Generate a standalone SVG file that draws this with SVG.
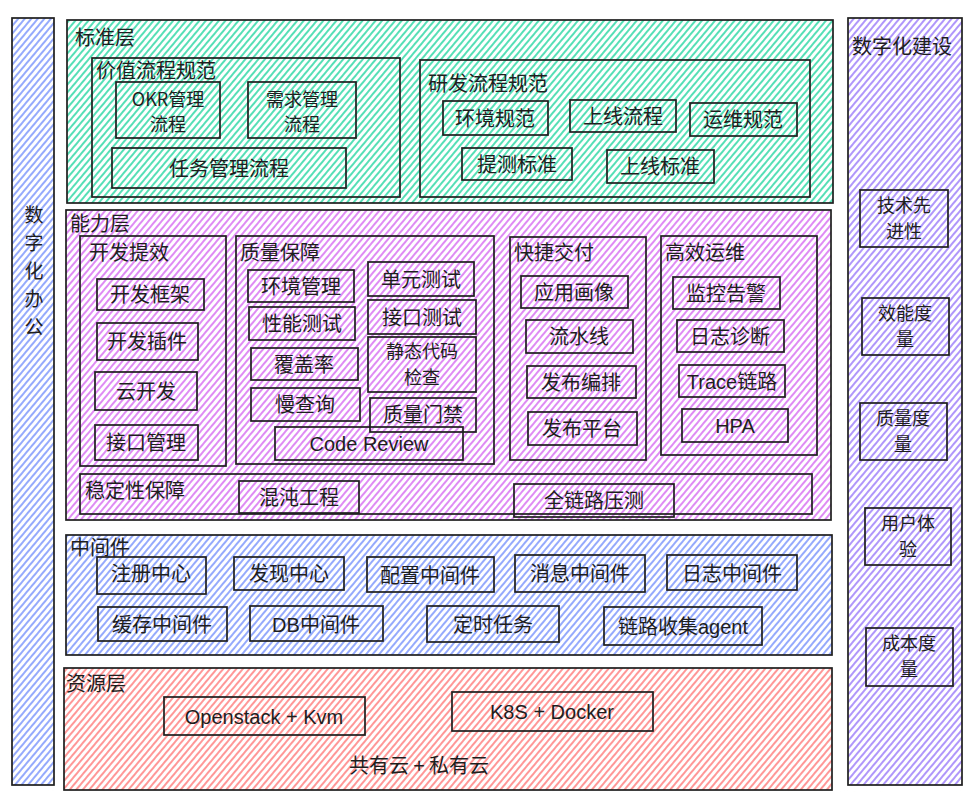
<svg xmlns="http://www.w3.org/2000/svg" width="975" height="800" viewBox="0 0 975 800">
<defs>
<pattern id="hG" width="5" height="5" patternUnits="userSpaceOnUse" patternTransform="rotate(40)"><line x1="1" y1="0" x2="1" y2="5" stroke="#38d9a9" stroke-width="1.7"/></pattern>
<pattern id="hP" width="5" height="5" patternUnits="userSpaceOnUse" patternTransform="rotate(40)"><line x1="1" y1="0" x2="1" y2="5" stroke="#da77f2" stroke-width="1.7"/></pattern>
<pattern id="hB" width="5" height="5" patternUnits="userSpaceOnUse" patternTransform="rotate(40)"><line x1="1" y1="0" x2="1" y2="5" stroke="#5c7cfa" stroke-width="1.3"/></pattern>
<pattern id="hV" width="5" height="5" patternUnits="userSpaceOnUse" patternTransform="rotate(40)"><line x1="1" y1="0" x2="1" y2="5" stroke="#845ef7" stroke-width="1.3"/></pattern>
<pattern id="hR" width="5" height="5" patternUnits="userSpaceOnUse" patternTransform="rotate(40)"><line x1="1" y1="0" x2="1" y2="5" stroke="#ff6b6b" stroke-width="1.4"/></pattern>
</defs>
<style>
.b{stroke:#1e1e1e;stroke-width:1.7;fill:none}
text{font-family:"Noto Sans CJK SC","Liberation Sans",sans-serif;font-size:20px;fill:#1e1e1e}
.c{text-anchor:middle}
.m{font-size:18px}
.v{font-size:19px}
.l{font-family:"Liberation Sans","Noto Sans CJK SC",sans-serif}
</style>
<rect width="975" height="800" fill="#fff"/>

<g id="left-bar">
<rect class="b" x="12" y="18" width="42" height="767" style="fill:url(#hB)"/>
<text class="c v" x="34" y="222">数<tspan x="34" dy="28">字</tspan><tspan x="34" dy="28">化</tspan><tspan x="34" dy="28">办</tspan><tspan x="34" dy="28">公</tspan></text>
</g>

<g id="right-bar">
<rect class="b" x="848" y="18" width="114" height="767" style="fill:url(#hV)"/>
<text class="c" x="902" y="54">数字化建设</text>
</g>
<g id="tech"><rect class="b" x="860" y="190" width="88" height="57"/><text class="c m" x="904" y="212">技术先<tspan x="904" dy="26">进性</tspan></text></g>
<g id="eff"><rect class="b" x="862" y="298" width="87" height="57"/><text class="c m" x="905" y="320">效能度<tspan x="905" dy="26">量</tspan></text></g>
<g id="qual"><rect class="b" x="860" y="403" width="87" height="57"/><text class="c m" x="903" y="425">质量度<tspan x="903" dy="26">量</tspan></text></g>
<g id="ux"><rect class="b" x="865" y="508" width="86" height="57"/><text class="c m" x="908" y="530">用户体<tspan x="908" dy="26">验</tspan></text></g>
<g id="cost"><rect class="b" x="866" y="628" width="87" height="58"/><text class="c m" x="909" y="650">成本度<tspan x="909" dy="26">量</tspan></text></g>

<g id="std-layer">
<rect class="b" x="67" y="20" width="766" height="183" style="fill:url(#hG)"/>
<text x="75" y="45">标准层</text>
</g>
<g id="value-spec"><rect class="b" x="92" y="58" width="308" height="139"/><text x="96" y="78">价值流程规范</text></g>
<g id="okr"><rect class="b" x="116" y="82" width="104" height="56"/><text class="c m" x="168" y="106">OKR管理<tspan x="168" dy="25">流程</tspan></text></g>
<g id="req"><rect class="b" x="248" y="82" width="108" height="56"/><text class="c m" x="302" y="106">需求管理<tspan x="302" dy="25">流程</tspan></text></g>
<g id="task"><rect class="b" x="112" y="148" width="234" height="40"/><text class="c" x="229" y="176">任务管理流程</text></g>
<g id="rd-spec"><rect class="b" x="420" y="60" width="390" height="137"/><text x="428" y="91">研发流程规范</text></g>
<g id="env-spec"><rect class="b" x="443" y="101" width="105" height="34"/><text class="c" x="495" y="126">环境规范</text></g>
<g id="online-flow"><rect class="b" x="570" y="100" width="106" height="32"/><text class="c" x="623" y="124">上线流程</text></g>
<g id="ops-spec"><rect class="b" x="690" y="103" width="107" height="33"/><text class="c" x="743" y="127">运维规范</text></g>
<g id="test-std"><rect class="b" x="462" y="148" width="110" height="32"/><text class="c" x="517" y="172">提测标准</text></g>
<g id="online-std"><rect class="b" x="607" y="150" width="107" height="33"/><text class="c" x="660" y="174">上线标准</text></g>

<g id="ability-layer">
<rect class="b" x="66" y="210" width="765" height="310" style="fill:url(#hP)"/>
<text x="70" y="231">能力层</text>
</g>
<g id="dev-eff"><rect class="b" x="80" y="236" width="146" height="230"/><text x="89" y="260">开发提效</text></g>
<g id="dev-fw"><rect class="b" x="97" y="279" width="107" height="31"/><text class="c" x="150" y="302">开发框架</text></g>
<g id="dev-plugin"><rect class="b" x="97" y="323" width="101" height="37"/><text class="c" x="147" y="349">开发插件</text></g>
<g id="cloud-dev"><rect class="b" x="95" y="372" width="102" height="38"/><text class="c" x="146" y="399">云开发</text></g>
<g id="api-mgmt"><rect class="b" x="95" y="425" width="103" height="35"/><text class="c" x="146" y="450">接口管理</text></g>

<g id="qa"><rect class="b" x="236" y="236" width="258" height="228"/><text x="240" y="260">质量保障</text></g>
<g id="env-mgmt"><rect class="b" x="248" y="270" width="106" height="32"/><text class="c" x="301" y="294">环境管理</text></g>
<g id="unit-test"><rect class="b" x="368" y="262" width="106" height="34"/><text class="c" x="421" y="287">单元测试</text></g>
<g id="perf-test"><rect class="b" x="249" y="307" width="106" height="33"/><text class="c" x="302" y="331">性能测试</text></g>
<g id="api-test"><rect class="b" x="368" y="300" width="108" height="34"/><text class="c" x="422" y="325">接口测试</text></g>
<g id="coverage"><rect class="b" x="251" y="348" width="107" height="32"/><text class="c" x="304" y="372">覆盖率</text></g>
<g id="static"><rect class="b" x="368" y="337" width="108" height="55"/><text class="c m" x="422" y="358">静态代码<tspan x="422" dy="26">检查</tspan></text></g>
<g id="slow-q"><rect class="b" x="251" y="388" width="109" height="33"/><text class="c" x="305" y="412">慢查询</text></g>
<g id="gate"><rect class="b" x="370" y="398" width="106" height="34"/><text class="c" x="423" y="422">质量门禁</text></g>
<g id="code-review"><rect class="b" x="275" y="427" width="188" height="33"/><text class="c l" x="369" y="451">Code Review</text></g>

<g id="delivery"><rect class="b" x="510" y="237" width="136" height="223"/><text x="514" y="260">快捷交付</text></g>
<g id="app-profile"><rect class="b" x="521" y="276" width="107" height="32"/><text class="c" x="574" y="300">应用画像</text></g>
<g id="pipeline"><rect class="b" x="526" y="320" width="107" height="33"/><text class="c" x="579" y="344">流水线</text></g>
<g id="release-orch"><rect class="b" x="527" y="366" width="109" height="32"/><text class="c" x="581" y="390">发布编排</text></g>
<g id="release-plat"><rect class="b" x="528" y="412" width="109" height="33"/><text class="c" x="582" y="436">发布平台</text></g>

<g id="ops"><rect class="b" x="661" y="236" width="156" height="219"/><text x="665" y="260">高效运维</text></g>
<g id="monitor"><rect class="b" x="673" y="277" width="107" height="32"/><text class="c" x="726" y="301">监控告警</text></g>
<g id="log-diag"><rect class="b" x="677" y="320" width="107" height="32"/><text class="c" x="730" y="344">日志诊断</text></g>
<g id="trace"><rect class="b" x="679" y="365" width="106" height="32"/><text class="c" x="732" y="389"><tspan class="l">Trace</tspan>链路</text></g>
<g id="hpa"><rect class="b" x="682" y="409" width="106" height="33"/><text class="c l" x="735" y="433">HPA</text></g>

<g id="stability"><rect class="b" x="80" y="474" width="732" height="40"/><text x="85" y="498">稳定性保障</text></g>
<g id="chaos"><rect class="b" x="239" y="481" width="120" height="32"/><text class="c" x="299" y="505">混沌工程</text></g>
<g id="stress"><rect class="b" x="514" y="484" width="160" height="33"/><text class="c" x="594" y="508">全链路压测</text></g>

<g id="middleware">
<rect class="b" x="66" y="535" width="766" height="120" style="fill:url(#hB)"/>
<text x="70" y="555">中间件</text>
</g>
<g id="registry"><rect class="b" x="97" y="557" width="109" height="37"/><text class="c" x="151" y="581">注册中心</text></g>
<g id="discovery"><rect class="b" x="234" y="557" width="110" height="33"/><text class="c" x="289" y="581">发现中心</text></g>
<g id="config"><rect class="b" x="367" y="557" width="127" height="35"/><text class="c" x="430" y="583">配置中间件</text></g>
<g id="mq"><rect class="b" x="515" y="555" width="130" height="37"/><text class="c" x="580" y="581">消息中间件</text></g>
<g id="log-mw"><rect class="b" x="667" y="555" width="130" height="35"/><text class="c" x="732" y="581">日志中间件</text></g>
<g id="cache"><rect class="b" x="98" y="607" width="129" height="34"/><text class="c" x="162" y="632">缓存中间件</text></g>
<g id="db"><rect class="b" x="250" y="606" width="133" height="35"/><text class="c" x="316" y="632"><tspan class="l">DB</tspan>中间件</text></g>
<g id="cron"><rect class="b" x="427" y="606" width="132" height="36"/><text class="c" x="493" y="632">定时任务</text></g>
<g id="trace-agent"><rect class="b" x="604" y="607" width="158" height="38"/><text class="c" x="683" y="634">链路收集<tspan class="l">agent</tspan></text></g>

<g id="resource">
<rect class="b" x="64" y="668" width="768" height="122" style="fill:url(#hR)"/>
<text x="66" y="691">资源层</text>
<text class="c" x="419" y="773">共有云 + 私有云</text>
</g>
<g id="openstack"><rect class="b" x="164" y="697" width="201" height="38"/><text class="c l" x="264" y="724">Openstack + Kvm</text></g>
<g id="k8s"><rect class="b" x="452" y="692" width="201" height="39"/><text class="c l" x="552" y="719">K8S + Docker</text></g>
</svg>
